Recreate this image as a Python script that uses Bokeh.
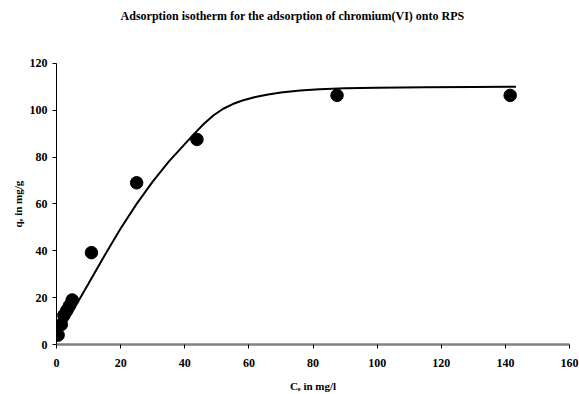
from bokeh.plotting import figure
from bokeh.models import Range1d, FixedTicker, Label
from bokeh.embed import file_html
from bokeh.resources import INLINE

# measured data points
ce = [0.5, 1.5, 2.3, 3.2, 4.0, 4.9, 10.9, 25.0, 43.8, 87.5, 141.5]
qe = [4.0, 8.5, 12.5, 14.5, 16.5, 19.0, 39.2, 69.0, 87.5, 106.3, 106.3]

# fitted isotherm curve
fit_x = [0.5, 3, 6, 10, 15, 20, 25, 30, 35, 40, 43, 46, 49, 52, 55, 58, 62, 66,
         70, 76, 82, 90, 100, 115, 130, 143.3]
fit_y = [3.5, 9.5, 16.5, 26, 38, 49.5, 60, 69.5, 78, 85.5, 90, 94.2, 97.8, 100.6,
         102.6, 104.1, 105.6, 106.7, 107.5, 108.4, 108.9, 109.3, 109.6, 109.8, 109.9, 110.0]

x_ticks = [0, 20, 40, 60, 80, 100, 120, 140, 160]
y_ticks = [0, 20, 40, 60, 80, 100, 120]

title_text = "Adsorption isotherm for the adsorption of chromium(VI) onto RPS"
x_label = "C\u2091 in mg/l"
y_label = "q\u2091 in mg/g"

FONT = "Liberation Serif"

# layout: frame spans from canvas top to the x axis; y axis line limited to 0..120
FRAME_H = 348.0
AXIS_TOP_PX = 63.5
y_end = 120 * FRAME_H / (FRAME_H - AXIS_TOP_PX)

p = figure(width=579, height=394, output_backend="svg", toolbar_location=None,
           x_range=Range1d(0, 160), y_range=Range1d(0, y_end),
           min_border_left=56, min_border_right=10, min_border_top=0, min_border_bottom=46)

p.line(fit_x, fit_y, line_color="black", line_width=2)
p.scatter(ce, qe, size=12.5, fill_color="black", line_color="black")

p.add_layout(Label(x=236, y=FRAME_H - 19, x_units="screen", y_units="screen",
                   text=title_text, text_align="center", text_baseline="middle",
                   text_font=FONT, text_font_size="12px", text_font_style="bold",
                   text_color="black"))

p.grid.visible = False
p.outline_line_color = None
p.background_fill_color = "white"
p.border_fill_color = "white"

for ax, ticks in ((p.xaxis[0], x_ticks), (p.yaxis[0], y_ticks)):
    ax.ticker = FixedTicker(ticks=ticks)
    ax.minor_tick_line_color = None
    ax.major_tick_in = 0
    ax.major_tick_out = 4
    ax.major_tick_line_color = "black"
    ax.major_label_text_font = FONT
    ax.major_label_text_font_size = "12px"
    ax.major_label_text_font_style = "bold"
    ax.major_label_text_color = "black"
    ax.axis_label_text_font = FONT
    ax.axis_label_text_font_size = "11px"
    ax.axis_label_text_font_style = "bold"
    ax.axis_label_text_color = "black"

p.yaxis[0].bounds = (0, 120)
p.xaxis[0].axis_label = x_label
# trailing no-break spaces shift the rotated label down to the centre of the 0..120 axis
p.yaxis[0].axis_label = y_label + "\u00a0" * 23
p.xaxis[0].axis_line_color = "#808080"
p.xaxis[0].axis_line_width = 2.5
p.yaxis[0].axis_line_color = "black"
p.xaxis[0].major_label_standoff = 10
p.yaxis[0].major_label_standoff = 5
p.xaxis[0].axis_label_standoff = 10
p.yaxis[0].axis_label_standoff = 3

open("out.html", "w").write(file_html(p, INLINE))
